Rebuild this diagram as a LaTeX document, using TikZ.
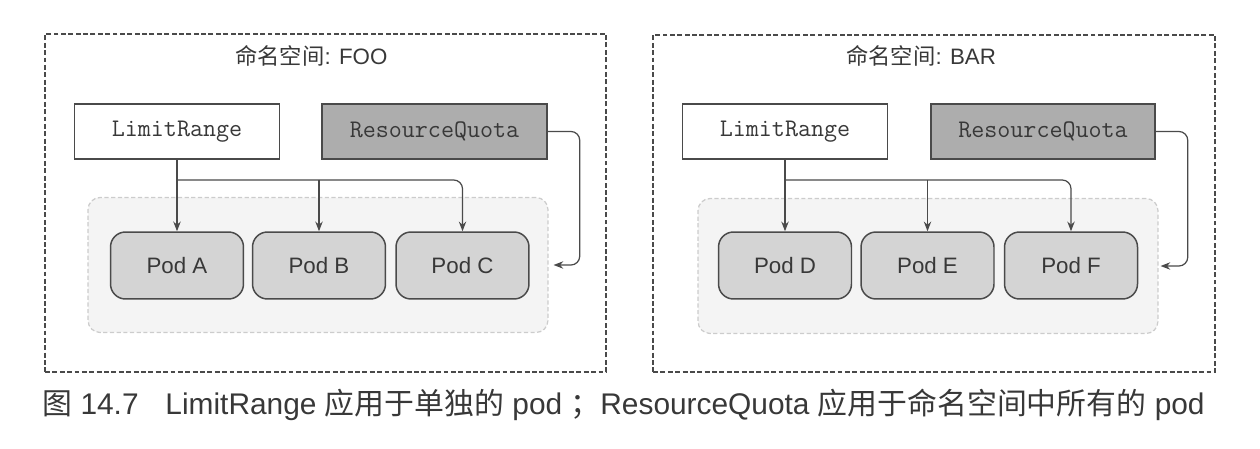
\documentclass[tikz,border=0pt]{standalone}
\usepackage{fontspec}
\setmainfont{Liberation Sans}
\newfontfamily\zhfont{Noto Sans CJK SC}
\usetikzlibrary{arrows.meta}
\definecolor{inkgray}{HTML}{4A4A4A}
\definecolor{textgray}{HTML}{383838}
\definecolor{quotagray}{HTML}{ADADAD}
\definecolor{podgray}{HTML}{D4D4D4}
\definecolor{groupfill}{HTML}{F4F4F4}
\definecolor{groupline}{HTML}{CCCCCC}

\begin{document}
\begin{tikzpicture}[x=0.02cm,y=-0.02cm,
  nsbox/.style={draw=inkgray,line width=0.75pt,dash pattern=on 2.8pt off 1.4pt,inner sep=0},
  title/.style={anchor=base west,text=textgray,font=\fontsize{12.7}{15}\selectfont,inner sep=0},
  podgroup/.style={draw=groupline,fill=groupfill,line width=0.7pt,dash pattern=on 2.4pt off 1.4pt,
    rounded corners=0.24cm,minimum width=9.2cm,minimum height=2.7cm,inner sep=0},
  crdbox/.style={draw=inkgray,fill=white,line width=0.85pt,minimum width=4.1cm,minimum height=1.1cm,
    inner sep=0,text=textgray,font=\ttfamily\fontsize{14.4}{16}\selectfont},
  pod/.style={draw=inkgray,fill=podgray,line width=0.85pt,rounded corners=0.3cm,
    minimum width=2.66cm,minimum height=1.34cm,inner sep=0,text=textgray,font=\fontsize{12.7}{15}\selectfont},
  link/.style={draw=inkgray,line width=0.7pt,-{Stealth[length=5.5pt,width=4.2pt]}}]
  \useasboundingbox (0,0) rectangle (1260,449);

  \node[nsbox,minimum width=11.22cm,minimum height=6.76cm] (nsFoo) at (325.5,203) {};
  \node[title] (titleFoo) at (235,65) {{\zhfont 命名空间}: FOO};
  \node[podgroup] (podsFoo) at (318,265) {};
  \node[crdbox] (limFoo) at (177,131.5) {LimitRange};
  \node[crdbox,fill=quotagray,minimum width=4.5cm] (rqFoo) at (434.5,131.5) {ResourceQuota};
  \node[pod] (podA) at (177,265.5) {Pod A};
  \node[pod] (podB) at (319,265.5) {Pod B};
  \node[pod] (podC) at (462.5,265.5) {Pod C};
  \coordinate (brFoo) at (177,180);
  \draw[link] (limFoo.south) -- (podA.north);
  \draw[link] (podB.north |- brFoo) -- (podB.north);
  \draw[link,rounded corners=5pt] (brFoo) -| (podC.north);
  \draw[link,rounded corners=5pt] (rqFoo.east) -- ++(32,0) |- ([xshift=0.1cm]podsFoo.east);

  \node[nsbox,minimum width=11.24cm,minimum height=6.74cm] (nsBar) at (934,203.5) {};
  \node[title] (titleBar) at (846,65) {{\zhfont 命名空间}: BAR};
  \node[podgroup] (podsBar) at (928,266) {};
  \node[crdbox] (limBar) at (785,131.5) {LimitRange};
  \node[crdbox,fill=quotagray,minimum width=4.48cm] (rqBar) at (1043,131.5) {ResourceQuota};
  \node[pod] (podD) at (785,265.5) {Pod D};
  \node[pod] (podE) at (927.5,265.5) {Pod E};
  \node[pod] (podF) at (1071,265.5) {Pod F};
  \coordinate (brBar) at (785,180);
  \draw[link] (limBar.south) -- (podD.north);
  \draw[link] (podE.north |- brBar) -- (podE.north);
  \draw[link,rounded corners=5pt] (brBar) -| (podF.north);
  \draw[link,rounded corners=5pt] (rqBar.east) -- ++(32,0) |- ([xshift=0.04cm]podsBar.east);

  \node[anchor=base west,inner sep=0,text=textgray,font=\fontsize{17}{20}\selectfont] (caption) at (42,414)
    {{\zhfont 图} 14.7\hspace{0.9em}LimitRange {\zhfont 应用于单独的} pod {\zhfont ；}ResourceQuota {\zhfont 应用于命名空间中所有的} pod};
\end{tikzpicture}
\end{document}
